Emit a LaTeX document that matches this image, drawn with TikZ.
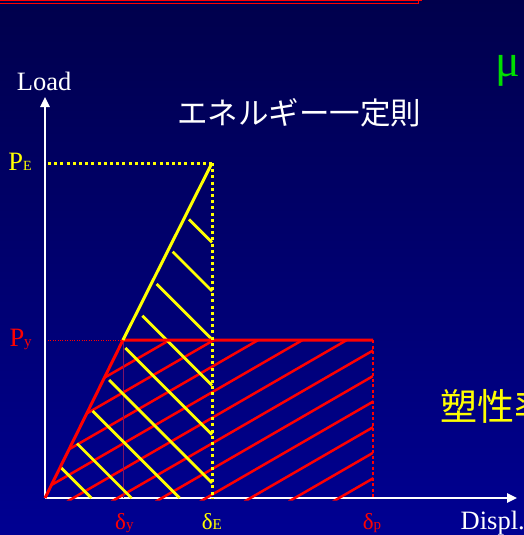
\documentclass[tikz,border=0pt]{standalone}
\usepackage{fontspec}
\setmainfont{Liberation Serif}
\newfontfamily\cjk{Noto Sans CJK JP}
\usetikzlibrary{arrows.meta}
\definecolor{bgtop}{RGB}{0,0,76}
\definecolor{bgbot}{RGB}{0,0,146}
\definecolor{lred}{RGB}{255,0,0}
\definecolor{ylw}{RGB}{255,255,0}
\definecolor{grn}{RGB}{0,222,0}
\definecolor{dimred}{RGB}{125,20,105}
\begin{document}
\begin{tikzpicture}[x=1pt,y=-1pt,
  axisline/.style={white,line width=2.4pt},
  redmain/.style={lred,line width=3pt},
  ylwmain/.style={ylw,line width=3pt},
  redhatch/.style={lred,line width=2.5pt},
  ylwhatch/.style={ylw,line width=2.8pt},
  ylwdots/.style={ylw,line width=3pt,dash pattern=on 3pt off 3.2pt},
  reddots/.style={lred,line width=2.5pt,dash pattern=on 3pt off 2.5pt},
  thindots/.style={lred,line width=0.8pt,dash pattern=on 1pt off 1.4pt},
  lbl/.style={inner sep=0pt,anchor=base west}]
\useasboundingbox (0,0) rectangle (524,535);
\clip (0,0) rectangle (524,535);
\shade[top color=bgtop,bottom color=bgbot] (0pt,0pt) rectangle (524pt,-535pt);
% frame remnant at top
\draw[lred,line width=1.3pt] (-5,0.8) -- (421,0.8) -- (421,-5);
\draw[lred,line width=1.3pt] (-5,3.8) -- (418.2,3.8) -- (418.2,-5);
% key points
\coordinate (O) at (45,498);
\coordinate (Y) at (123,340);
\coordinate (E) at (212,163);
\coordinate (EB) at (212,498);
\coordinate (PT) at (373,340);
\coordinate (PB) at (373,498);
\coordinate (YB) at (123,498);
\coordinate (YA) at (48,340);
\coordinate (EA) at (48,163);
\coordinate (Ytop) at (45,97);
\coordinate (Xend) at (517,498);
% axes
\draw[axisline,-{Triangle[width=9pt,length=10pt]}] (O) -- (Ytop);
\draw[axisline,-{Triangle[width=9pt,length=10pt]}] (O) -- (Xend);
% red hatching
\begin{scope}
  \clip (O) -- (Y) -- (PT) -- (373,500.5) -- (44,500.5) -- cycle;
  \foreach \k in {0,...,10}{
    \pgfmathsetmacro\b{339-44.3*\k}
    \draw[redhatch] (\b-6,501.5) -- ++(430,-248.3);
  }
\end{scope}
% thin guides
\draw[dimred,line width=0.9pt] (Y) -- (YB);
\draw[thindots] (YA) -- (Y);
% yellow hatching
\draw[ylwhatch] (60.7,467.3) -- (91.4,498);
\draw[ylwhatch] (77,443.5) -- (131.5,498);
\draw[ylwhatch] (92.7,411) -- (179.7,498);
\draw[ylwhatch] (109.2,380) -- (212,482.8);
\draw[ylwhatch] (125.4,348) -- (212,434.6);
\draw[ylwhatch] (142.3,315.7) -- (212,385.4);
\draw[ylwhatch] (156.7,284) -- (212,339.3);
\draw[ylwhatch] (172.7,251.7) -- (212,291);
\draw[ylwhatch] (189,219.3) -- (212,242.3);
% main curve
\draw[redmain,line join=miter] (O) -- (Y) -- (PT);
\draw[reddots] (PT) -- (PB);
\draw[ylwmain] (Y) -- (E);
\draw[ylwdots] (E) -- (EB);
\draw[ylwdots] (EA) -- (E);
% labels
\node[lbl,anchor=base,white,font=\fontsize{26.5}{30}\selectfont] (load) at (44.2,90.5) {Load};
\node[lbl,white,font=\fontsize{26.5}{30}\selectfont] (displ) at (460.5,529.3) {Displ.};
\node[lbl,ylw,font=\fontsize{26.5}{30}\selectfont] (pe) at (8.3,170) {P{\fontsize{14}{16}\selectfont E}};
\node[lbl,lred,font=\fontsize{26.5}{30}\selectfont] (py) at (9.3,346.5) {P{\fontsize{15}{16}\selectfont y}};
\node[lbl,lred,font=\fontsize{23}{26}\selectfont] (dy) at (115,529.3) {δ{\fontsize{15}{16}\selectfont y}};
\node[lbl,ylw,font=\fontsize{23}{26}\selectfont] (de) at (201.7,529.3) {δ{\fontsize{15}{16}\selectfont E}};
\node[lbl,lred,font=\fontsize{23}{26}\selectfont] (dp) at (362.7,529.3) {δ{\fontsize{15}{16}\selectfont p}};
\node[inner sep=0pt,anchor=base,white,font=\cjk\fontsize{30.5}{32}\selectfont] (title) at (299.2,124.5) {エネルギー一定則};
\node[lbl,ylw,font=\cjk\fontsize{37}{40}\selectfont] (sosei) at (440.5,420.5) {塑性率};
\node[lbl,grn,font=\fontsize{46}{50}\selectfont] (mu) at (495,77) {μ};
\end{tikzpicture}
\end{document}
